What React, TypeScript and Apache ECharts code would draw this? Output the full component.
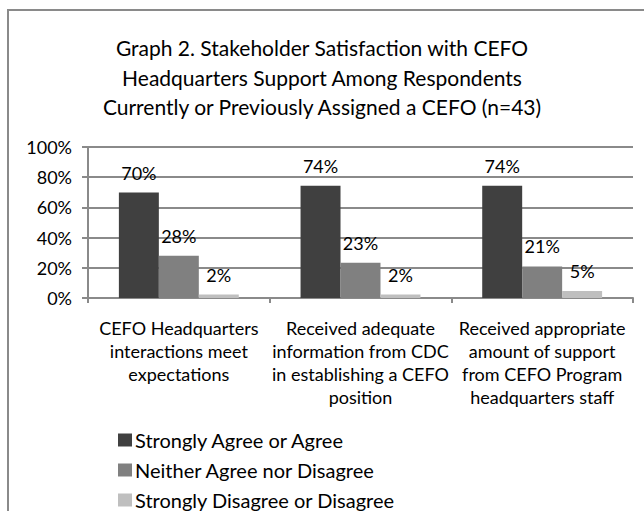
import React, { useEffect, useRef } from "react";
import * as echarts from "echarts";

const titleText =
  "Graph 2. Stakeholder Satisfaction with CEFO\nHeadquarters Support Among Respondents\nCurrently or Previously Assigned a CEFO (n=43)";

const categories = [
  "CEFO Headquarters\ninteractions meet\nexpectations",
  "Received adequate\ninformation from CDC\nin establishing a CEFO\nposition",
  "Received appropriate\namount of support\nfrom CEFO Program\nheadquarters staff",
];

const seriesNames = [
  "Strongly Agree or Agree",
  "Neither Agree nor Disagree",
  "Strongly Disagree or Disagree",
];

const agree = [69.8, 74.4, 74.4];
const neither = [27.9, 23.3, 20.9];
const disagree = [2.3, 2.3, 4.7];

const colors = ["#404040", "#808080", "#bfbfbf"];

const yTicks = [0, 20, 40, 60, 80, 100];

const FONT = "Lato";

export default function App() {
  const ref = useRef<HTMLDivElement>(null);
  useEffect(() => {
    if (!ref.current) return;
    const chart = echarts.init(ref.current, undefined, { renderer: "svg" });
    const values = [agree, neither, disagree];
    chart.setOption({
      animation: false,
      backgroundColor: "#ffffff",
      textStyle: { fontFamily: FONT },
      title: {
        text: titleText,
        left: "center",
        top: 28,
        textStyle: {
          fontFamily: FONT,
          fontSize: 21,
          fontWeight: "normal",
          color: "#000",
          lineHeight: 29.5,
        },
      },
      graphic: [
        {
          type: "rect",
          shape: { x: 8, y: 10, width: 700, height: 600 },
          style: { fill: "none", stroke: "#8a8a8a", lineWidth: 2 },
          silent: true,
        },
      ],
      legend: {
        orient: "vertical",
        left: 118,
        top: 430,
        height: 90,
        padding: 0,
        itemWidth: 14,
        itemHeight: 13,
        itemGap: 10,
        icon: "rect",
        textStyle: {
          fontFamily: FONT,
          fontSize: 20,
          color: "#000",
          lineHeight: 20,
          padding: [0, 0, 0, -2],
        },
        data: seriesNames,
      },
      grid: { left: 88, right: 11, top: 147, bottom: 213, containLabel: false },
      xAxis: {
        type: "category",
        data: categories,
        axisLine: { lineStyle: { color: "#8a8a8a", width: 2 } },
        axisTick: { show: true, interval: 0, length: 5, lineStyle: { color: "#8a8a8a", width: 2 } },
        axisLabel: {
          interval: 0,
          margin: 18,
          fontFamily: FONT,
          fontSize: 18,
          lineHeight: 23,
          color: "#000",
        },
      },
      yAxis: {
        type: "value",
        min: 0,
        max: 100,
        interval: 20,
        axisLine: { show: true, lineStyle: { color: "#8a8a8a", width: 2 } },
        axisTick: { show: true, length: 6, lineStyle: { color: "#8a8a8a", width: 2 } },
        splitLine: { show: true, lineStyle: { color: "#8a8a8a", width: 2 } },
        axisLabel: {
          margin: 16,
          fontFamily: FONT,
          fontSize: 18,
          color: "#000",
          formatter: (v: number) => (yTicks.includes(v) ? `${v}%` : ""),
        },
      },
      series: seriesNames.map((name, i) => ({
        name,
        type: "bar",
        data: values[i],
        barGap: "0%",
        barCategoryGap: "34%",
        itemStyle: { color: colors[i] },
        label: {
          show: true,
          position: "top",
          distance: 11,
          fontFamily: FONT,
          fontSize: 18,
          color: "#000",
          formatter: (p: any) => `${Math.round(p.value)}%`,
        },
      })),
    });
    return () => chart.dispose();
  }, []);
  return (
    <div
      ref={ref}
      style={{ position: "absolute", left: 0, top: 0, width: 644, height: 511 }}
    />
  );
}
